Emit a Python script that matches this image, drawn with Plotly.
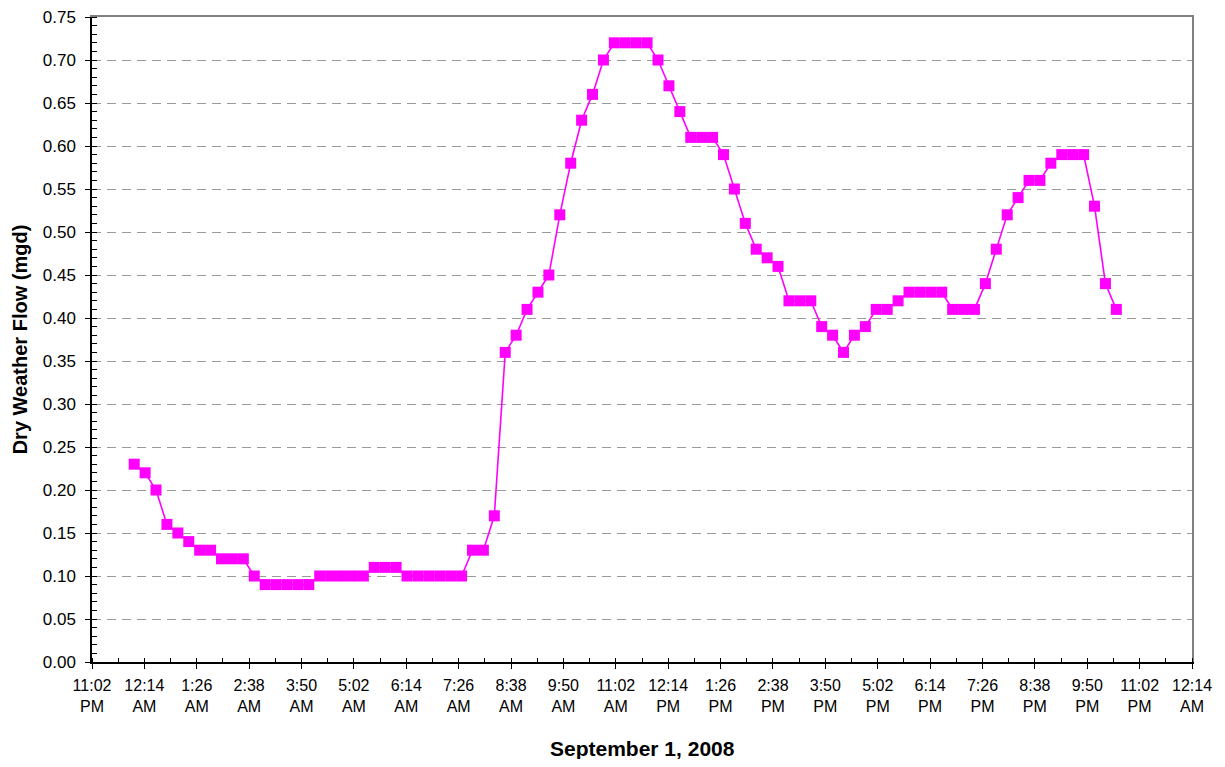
import pandas as pd
import plotly.graph_objects as go

# 15-minute readings on September 1, 2008, starting at midnight
start_time = "2008-09-01 00:00"
interval = "15min"
flow_mgd = [
    0.23, 0.22, 0.20, 0.16, 0.15, 0.14, 0.13, 0.13, 0.12, 0.12, 0.12,
    0.10,
    0.09, 0.09, 0.09, 0.09, 0.09,
    0.10, 0.10, 0.10, 0.10, 0.10,
    0.11, 0.11, 0.11,
    0.10, 0.10, 0.10, 0.10, 0.10, 0.10,
    0.13, 0.13,
    0.17, 0.36, 0.38, 0.41, 0.43, 0.45, 0.52, 0.58, 0.63, 0.66, 0.70,
    0.72, 0.72, 0.72, 0.72,
    0.70, 0.67, 0.64,
    0.61, 0.61, 0.61,
    0.59, 0.55, 0.51, 0.48, 0.47, 0.46,
    0.42, 0.42, 0.42,
    0.39, 0.38, 0.36, 0.38, 0.39,
    0.41, 0.41,
    0.42,
    0.43, 0.43, 0.43, 0.43,
    0.41, 0.41, 0.41,
    0.44, 0.48, 0.52, 0.54,
    0.56, 0.56,
    0.58,
    0.59, 0.59, 0.59,
    0.53, 0.44, 0.41,
]
times = pd.date_range(start=start_time, periods=len(flow_mgd), freq=interval)

x_range = ["2008-08-31 23:02", "2008-09-02 00:14"]
x_tick0 = "2008-08-31 23:02"
x_dtick_ms = 72 * 60 * 1000
x_minor_ms = 36 * 60 * 1000
y_range = [0, 0.75]

x_title = "September 1, 2008"
y_title = "Dry Weather Flow (mgd)"

FONT = "Liberation Sans, Arial, sans-serif"
MAGENTA = "#FF00FF"

fig = go.Figure()
fig.add_trace(go.Scatter(
    x=times, y=flow_mgd, mode="lines+markers",
    line=dict(color=MAGENTA, width=1.6),
    marker=dict(symbol="square", size=11, color=MAGENTA, line=dict(width=0)),
    showlegend=False, hoverinfo="x+y",
))
# empty helper traces so the overlay axes (border / inner tick marks) get drawn
fig.add_trace(go.Scatter(x=[], y=[], xaxis="x2", yaxis="y2",
                         showlegend=False, hoverinfo="skip"))
fig.add_trace(go.Scatter(x=[], y=[], xaxis="x3", yaxis="y3",
                         showlegend=False, hoverinfo="skip"))

# page body adds an 8px margin, so the figure is sized to fit inside it
fig.update_layout(
    width=1209, height=751,
    margin=dict(l=84, r=25, t=9, b=97),
    paper_bgcolor="white", plot_bgcolor="white",
    font=dict(family=FONT, size=16, color="black"),
    xaxis=dict(
        type="date", range=x_range, tick0=x_tick0, dtick=x_dtick_ms,
        tickformat="%-I:%M<br>%p", automargin=False, ticklabeloverflow="allow",
        showline=True, linecolor="black", linewidth=1.5,
        ticks="outside", ticklen=5, tickcolor="black", tickwidth=1,
        ticklabelstandoff=3,
        minor=dict(dtick=x_minor_ms, tick0=x_tick0, ticks="inside", ticklen=4,
                   tickcolor="black", showgrid=False),
        showgrid=False, zeroline=False,
        tickfont=dict(size=16),
    ),
    yaxis=dict(
        range=y_range, dtick=0.05, tick0=0, tickformat=".2f", automargin=False,
        ticklabeloverflow="allow",
        showline=True, linecolor="black", linewidth=1.5,
        ticks="outside", ticklen=5, tickcolor="black", tickwidth=1,
        ticklabelstandoff=6,
        minor=dict(dtick=0.01, ticks="inside", ticklen=5, tickcolor="black",
                   showgrid=False),
        showgrid=True, gridcolor="#9a9a9a", gridwidth=1, griddash="9px,6px",
        zeroline=False,
        title=dict(text="<b>" + y_title + "</b>", font=dict(size=20), standoff=10),
        tickfont=dict(size=17),
    ),
    xaxis2=dict(
        type="date", range=x_range, overlaying="x", side="top", anchor="y2",
        showline=True, linecolor="#808080", linewidth=1.5, automargin=False,
        showticklabels=False, ticks="", showgrid=False, zeroline=False,
    ),
    yaxis2=dict(
        range=y_range, overlaying="y", side="right", anchor="x2",
        showline=True, linecolor="#808080", linewidth=1.5, automargin=False,
        showticklabels=False, ticks="", showgrid=False, zeroline=False,
    ),
    xaxis3=dict(
        type="date", range=x_range, overlaying="x", side="bottom", anchor="y3",
        tick0=x_tick0, dtick=x_dtick_ms, ticks="inside", ticklen=4,
        tickcolor="black", showticklabels=False, showline=False, automargin=False,
        showgrid=False, zeroline=False,
    ),
    yaxis3=dict(
        range=y_range, overlaying="y", side="left", anchor="x3", dtick=0.05, tick0=0,
        ticks="inside", ticklen=5, tickcolor="black", showticklabels=False,
        showline=False, showgrid=False, zeroline=False, automargin=False,
    ),
    annotations=[dict(
        text="<b>" + x_title + "</b>", xref="paper", yref="paper",
        x=0.5, y=-0.1335, xanchor="center", yanchor="middle",
        showarrow=False, font=dict(size=21, family=FONT, color="black"),
    )],
)

fig.write_html("out.html")
